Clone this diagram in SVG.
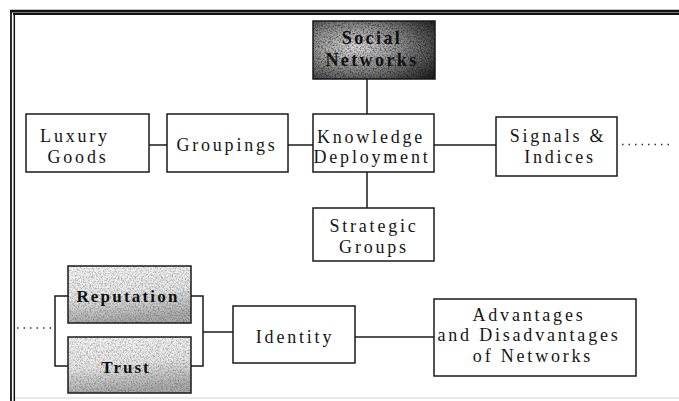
<svg xmlns="http://www.w3.org/2000/svg" width="679" height="401" viewBox="0 0 679 401">
  <style>
    .box { fill: #ffffff; stroke: #1a1a1a; stroke-width: 1.5; }
    .lbl { font-family: "Liberation Serif", "Times New Roman", serif; font-size: 18px; letter-spacing: 2.8px; fill: #151515; text-anchor: middle; }
    .bold { font-family: "Liberation Serif", "Times New Roman", serif; font-weight: bold; fill: #111; text-anchor: middle; }
    .conn { stroke: #1a1a1a; stroke-width: 1.5; fill: none; }
    .dots { stroke: #333; stroke-width: 1.3; stroke-dasharray: 1.5 5; fill: none; }
    .frame { stroke: #111; fill: none; }
  </style>
  <defs>
    <radialGradient id="darkShade" cx="0.35" cy="0.45" r="0.8">
      <stop offset="0" stop-color="#dadada"/>
      <stop offset="0.4" stop-color="#999"/>
      <stop offset="1" stop-color="#222"/>
    </radialGradient>
    <linearGradient id="lightShade" x1="0" y1="0" x2="0.2" y2="1">
      <stop offset="0" stop-color="#f6f6f6"/>
      <stop offset="0.55" stop-color="#e6e6e6"/>
      <stop offset="1" stop-color="#ababab"/>
    </linearGradient>
    <filter id="grain" x="0" y="0" width="100%" height="100%" color-interpolation-filters="sRGB">
      <feTurbulence type="fractalNoise" baseFrequency="0.6" numOctaves="3" seed="7" result="noise"/>
      <feColorMatrix in="noise" type="matrix" values="0 0 0 0 0  0 0 0 0 0  0 0 0 0 0  2.4 0 0 0 -1.0" result="speck"/>
      <feComposite in="speck" in2="SourceGraphic" operator="in"/>
    </filter>
  </defs>

  <rect width="679" height="401" fill="#ffffff"/>

  <!-- outer frame: double rule on top and left -->
  <g id="frame">
    <line class="frame" x1="10" y1="11" x2="679" y2="11" stroke-width="2.5"/>
    <line class="frame" x1="13" y1="14" x2="679" y2="14" stroke-width="1.8"/>
    <line x1="10" y1="12.5" x2="679" y2="12.5" stroke="#777" stroke-width="1"/>
    <line class="frame" x1="11" y1="10" x2="11" y2="401" stroke-width="1.8"/>
    <line class="frame" x1="14.3" y1="13" x2="14.3" y2="401" stroke-width="1.5"/>
    <line x1="15" y1="398" x2="679" y2="398" stroke="#d4d4d4" stroke-width="1"/>
  </g>

  <!-- connectors -->
  <g id="connectors">
    <line class="conn" x1="367" y1="79" x2="367" y2="114"/>
    <line class="conn" x1="149" y1="145" x2="167" y2="145"/>
    <line class="conn" x1="288" y1="145" x2="313" y2="145"/>
    <line class="conn" x1="434" y1="145" x2="496" y2="145"/>
    <line class="conn" x1="367" y1="172" x2="367" y2="208"/>
    <line class="dots" x1="622" y1="144.5" x2="670" y2="144.5"/>
    <polyline class="conn" points="68,296 55,296 55,366 68,366"/>
    <polyline class="conn" points="191,296 203,296 203,366 191,366"/>
    <line class="dots" x1="17" y1="328" x2="55" y2="328"/>
    <line class="conn" x1="203" y1="332" x2="233" y2="332"/>
    <line class="conn" x1="355" y1="337" x2="434" y2="337"/>
  </g>

  <g id="social-networks">
    <rect x="313" y="21" width="122" height="58" fill="url(#darkShade)" stroke="#1a1a1a" stroke-width="1.5"/>
    <rect x="313" y="21" width="122" height="58" fill="#000" filter="url(#grain)" opacity="0.55"/>
    <text class="bold" x="372" y="44" font-size="18" letter-spacing="2.4">Social</text>
    <text class="bold" x="372" y="66" font-size="18" letter-spacing="2.4">Networks</text>
  </g>

  <g id="luxury-goods">
    <rect class="box" x="26" y="114" width="123" height="58"/>
    <text class="lbl" x="75" y="142">Luxury</text>
    <text class="lbl" x="78" y="163">Goods</text>
  </g>

  <g id="groupings">
    <rect class="box" x="167" y="114" width="121" height="58"/>
    <text class="lbl" x="227" y="151">Groupings</text>
  </g>

  <g id="knowledge-deployment">
    <rect class="box" x="313" y="114" width="121" height="58"/>
    <text class="lbl" x="371" y="143">Knowledge</text>
    <text class="lbl" x="372" y="163">Deployment</text>
  </g>

  <g id="signals-indices">
    <rect class="box" x="496" y="117" width="121" height="59"/>
    <text class="lbl" x="558" y="142">Signals &amp;</text>
    <text class="lbl" x="560" y="163">Indices</text>
  </g>

  <g id="strategic-groups">
    <rect class="box" x="313" y="208" width="121" height="53"/>
    <text class="lbl" x="374" y="232">Strategic</text>
    <text class="lbl" x="374" y="253">Groups</text>
  </g>

  <g id="reputation">
    <rect x="68" y="266" width="123" height="57" fill="url(#lightShade)" stroke="#1a1a1a" stroke-width="1.5"/>
    <rect x="68" y="266" width="123" height="57" fill="#000" filter="url(#grain)" opacity="0.3"/>
    <text class="bold" x="128" y="302" font-size="17" letter-spacing="2.2">Reputation</text>
  </g>

  <g id="trust">
    <rect x="68" y="337" width="123" height="56" fill="url(#lightShade)" stroke="#1a1a1a" stroke-width="1.5"/>
    <rect x="68" y="337" width="123" height="56" fill="#000" filter="url(#grain)" opacity="0.3"/>
    <text class="bold" x="126" y="373" font-size="17" letter-spacing="2">Trust</text>
  </g>

  <g id="identity">
    <rect class="box" x="233" y="306" width="122" height="57"/>
    <text class="lbl" x="295" y="343">Identity</text>
  </g>

  <g id="advantages-disadvantages">
    <rect class="box" x="434" y="299" width="202" height="77"/>
    <text class="lbl" x="529" y="321">Advantages</text>
    <text class="lbl" x="529" y="341">and Disadvantages</text>
    <text class="lbl" x="533" y="362">of Networks</text>
  </g>
</svg>
